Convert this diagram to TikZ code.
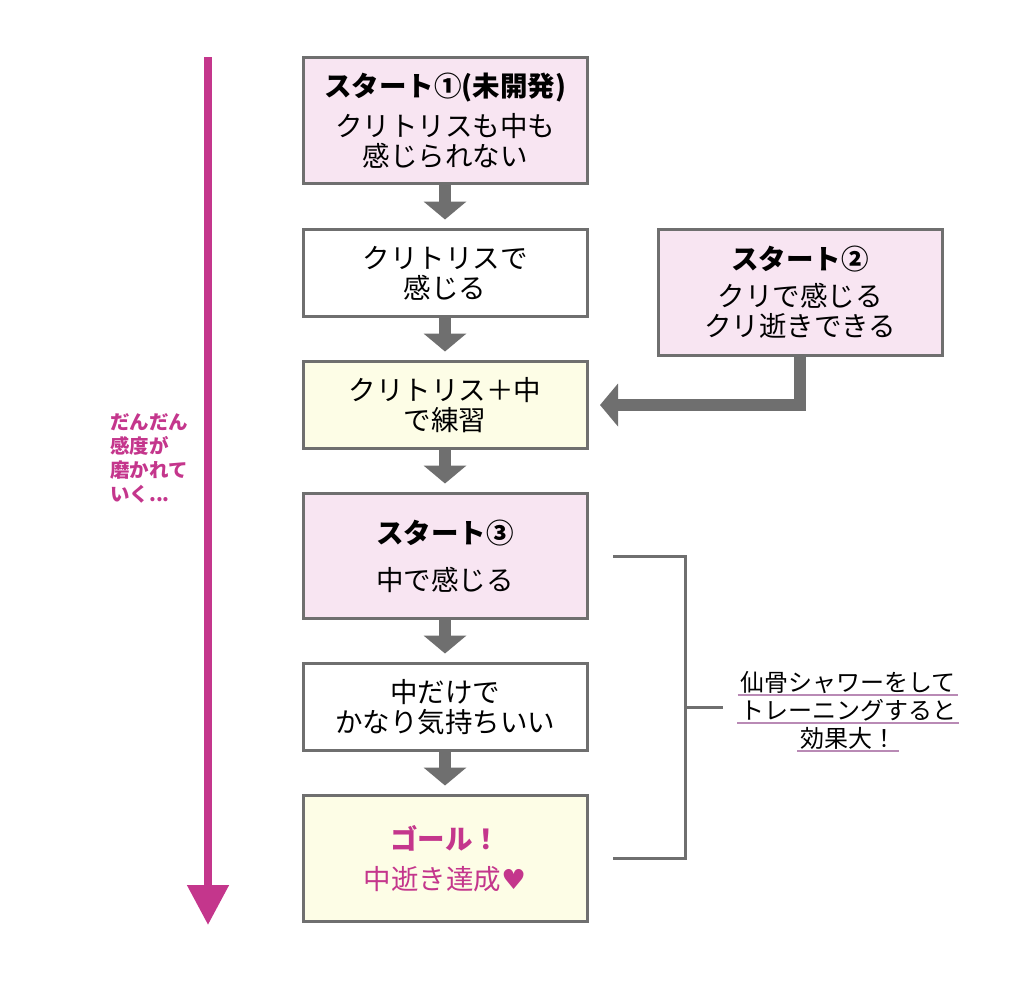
\documentclass[tikz,border=0pt]{standalone}
\usepackage{fontspec}
\usepackage{tikz}
\setmainfont{Noto Sans CJK JP}
\newfontfamily\symfont{DejaVu Sans}
\usetikzlibrary{arrows.meta,positioning}
\definecolor{boxgray}{HTML}{6F6F6F}
\definecolor{pinkfill}{HTML}{F8E5F2}
\definecolor{yellowfill}{HTML}{FDFDE6}
\definecolor{magentaline}{HTML}{C4368C}
\definecolor{ulpink}{HTML}{B98AB5}

\begin{document}
\begin{tikzpicture}[x=1pt,y=-1pt,
  box/.style={draw=boxgray,line width=3pt,minimum width=284pt,align=center,
    inner sep=0pt,outer sep=0pt,font=\fontsize{27.5}{30}\selectfont},
  pinkbox/.style={box,fill=pinkfill,minimum height=126pt},
  plainbox/.style={box,fill=white,minimum height=87pt},
  yellowbox/.style={box,fill=yellowfill},
  flow/.style={draw=boxgray,line width=12pt,-{Triangle[width=42pt,length=18pt]},shorten >=10pt},
  bracket/.style={draw=boxgray,line width=3pt},
  note/.style={font=\fontsize{24}{28}\selectfont,inner xsep=2.5pt,inner ysep=0pt,
    text height=18pt,text depth=4pt,anchor=base},
  node distance=45pt]
  \useasboundingbox (0,0) rectangle (1024,986);

  % Progress arrow
  \coordinate (gradtop) at (208,57);
  \coordinate (gradend) at (208,925);
  \draw[line width=8pt,magentaline,-{Triangle[width=40pt,length=40pt]}] (gradtop) -- (gradend);
  \node[anchor=north west,align=left,inner sep=0pt,text=magentaline,
    font=\bfseries\fontsize{19.5}{24}\selectfont] (gradnote) at (110,413)
    {だんだん\\感度が\\磨かれて\\いく...};

  % Boxes
  \node[pinkbox] (start1) at (445,120.5)
    {\textbf{スタート①(未開発)}\\[10pt]クリトリスも中も\\感じられない};
  \node[plainbox,below=46pt of start1] (clit) {クリトリスで\\感じる};
  \node[pinkbox,right=71pt of clit.north east,anchor=north west] (start2)
    {\textbf{スタート②}\\[7pt]クリで感じる\\クリ逝きできる};
  \node[yellowbox,minimum height=87pt,below=of clit] (practice) {クリトリス＋中\\で練習};
  \node[pinkbox,minimum height=125pt,below=of practice] (start3)
    {\textbf{スタート③}\\[17pt]中で感じる};
  \node[plainbox,below=of start3] (inner) {中だけで\\かなり気持ちいい};
  \node[yellowbox,minimum height=126pt,below=of inner,text=magentaline] (goal)
    {\textbf{ゴール！}\\[10pt]中逝き達成{\symfont ♥}};

  % Arrows
  \draw[flow] (start1.south) -- (clit.north);
  \draw[flow] (clit.south) -- (practice.north);
  \draw[flow] (practice.south) -- (start3.north);
  \draw[flow] (start3.south) -- (inner.north);
  \draw[flow] (inner.south) -- (goal.north);
  \draw[flow,shorten >=13pt] (start2.south) |- (practice.east);

  % Note
  \node[note] (noteA) at (848,691) {仙骨シャワーをして};
  \node[note] (noteB) at (848,719) {トレーニングすると};
  \node[note] (noteC) at (848,747) {効果大！};
  \foreach \n in {noteA,noteB,noteC}
    \draw[ulpink,line width=1.5pt] (\n.south west) -- (\n.south east);

  % Bracket
  \coordinate (brtop) at ([xshift=98pt]start3.east);
  \draw[bracket] ([xshift=26pt]start3.east) -- (brtop) -- (brtop |- goal.east)
    -- ([xshift=26pt]goal.east);
  \draw[bracket] ([yshift=5pt]brtop |- noteB.west) -- ([xshift=-14pt,yshift=5pt]noteB.west);
\end{tikzpicture}
\end{document}
